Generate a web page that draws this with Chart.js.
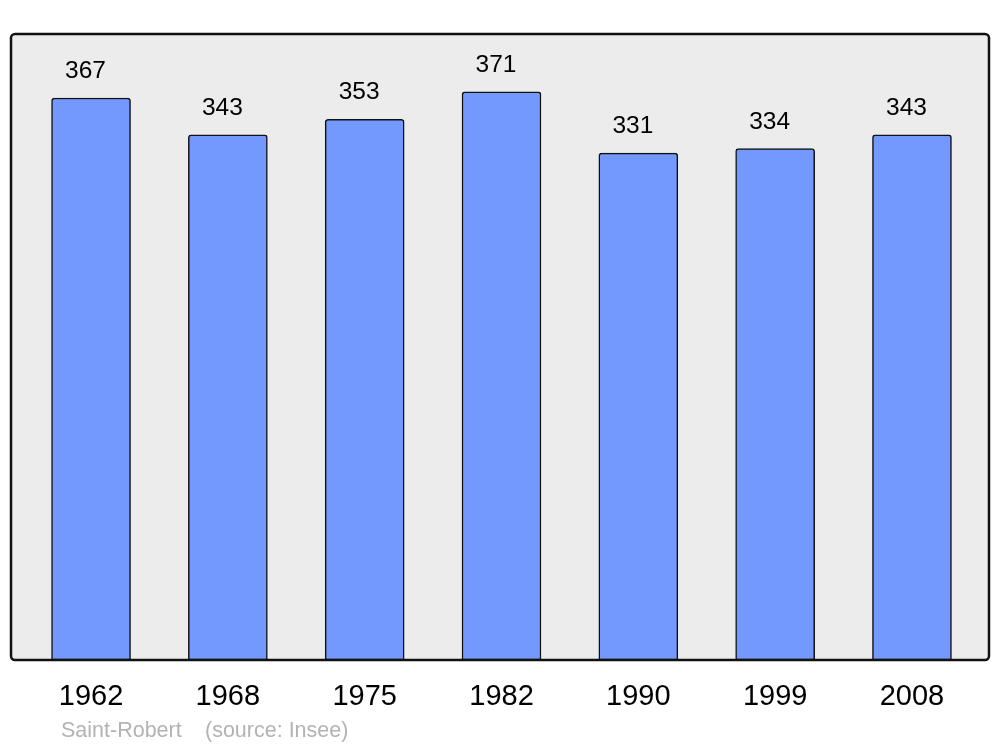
<!DOCTYPE html>
<html>
<head>
<meta charset="utf-8">
<script src="https://cdn.jsdelivr.net/npm/chart.js@4"></script>
<style>
  body { margin: 0; background: #fff; }
  canvas { display: block; }
</style>
</head>
<body>
<canvas id="myChart" width="1000" height="747"></canvas>
<script>
// données (population)
const years = ['1962', '1968', '1975', '1982', '1990', '1999', '2008'];
const population = [367, 343, 353, 371, 331, 334, 343];
const sourceLabel = 'Saint-Robert';
const sourceNote = '(source: Insee)';

const ctx = document.getElementById('myChart').getContext('2d');

// fond gris + cadre noir autour de la zone du graphe
const framePlugin = {
    id: 'frame',
    beforeDraw(chart) {
        const { ctx, chartArea: a } = chart;
        ctx.save();
        ctx.beginPath();
        ctx.roundRect(a.left, a.top, a.right - a.left, a.bottom - a.top, 4);
        ctx.fillStyle = '#ececec';
        ctx.fill();
        ctx.restore();
    },
    afterDatasetsDraw(chart) {
        const { ctx, chartArea: a } = chart;
        ctx.save();
        ctx.beginPath();
        ctx.roundRect(a.left, a.top, a.right - a.left, a.bottom - a.top, 4);
        ctx.lineWidth = 2.5;
        ctx.strokeStyle = '#111';
        ctx.stroke();

        // valeurs au-dessus des barres (légèrement décalées à gauche comme l'original)
        ctx.font = '24.5px "Liberation Sans", Arial, sans-serif';
        ctx.fillStyle = '#000';
        ctx.textAlign = 'center';
        ctx.textBaseline = 'alphabetic';
        chart.getDatasetMeta(0).data.forEach((bar, i) => {
            ctx.fillText(String(population[i]), bar.x - 5.5, bar.y - 20);
        });

        // source
        ctx.font = '21.5px "Liberation Sans", Arial, sans-serif';
        ctx.fillStyle = '#b3b3b3';
        ctx.textAlign = 'left';
        ctx.fillText(sourceLabel, 61, 737);
        ctx.fillText(sourceNote, 205, 737);
        ctx.restore();
    }
};

new Chart(ctx, {
    type: 'bar',
    data: {
        datasets: [{
            data: population.map((v, i) => ({ x: i, y: v })),
            backgroundColor: '#7399ff',
            borderColor: '#111',
            borderWidth: 1.5,
            borderSkipped: false,
            borderRadius: { topLeft: 3, topRight: 3, bottomLeft: 0, bottomRight: 0 },
            barThickness: 79
        }]
    },
    options: {
        responsive: false,
        animation: false,
        layout: { padding: { left: 11, right: 11, top: 34, bottom: 0 } },
        plugins: { legend: { display: false }, tooltip: { enabled: false } },
        scales: {
            x: {
                type: 'linear',
                offset: false,
                min: -0.585,
                max: 6.563,
                border: { display: false },
                grid: { display: false, drawTicks: false, offset: false },
                afterBuildTicks: scale => { scale.ticks = years.map((y, i) => ({ value: i })); },
                afterFit: scale => { scale.height = 87; },
                ticks: {
                    padding: 20,
                    color: '#000',
                    font: { family: '"Liberation Sans", Arial, sans-serif', size: 29 },
                    callback: value => years[value] ?? ''
                }
            },
            y: {
                min: 0,
                max: 408.8,
                display: false
            }
        }
    },
    plugins: [framePlugin]
});
</script>
</body>
</html>
